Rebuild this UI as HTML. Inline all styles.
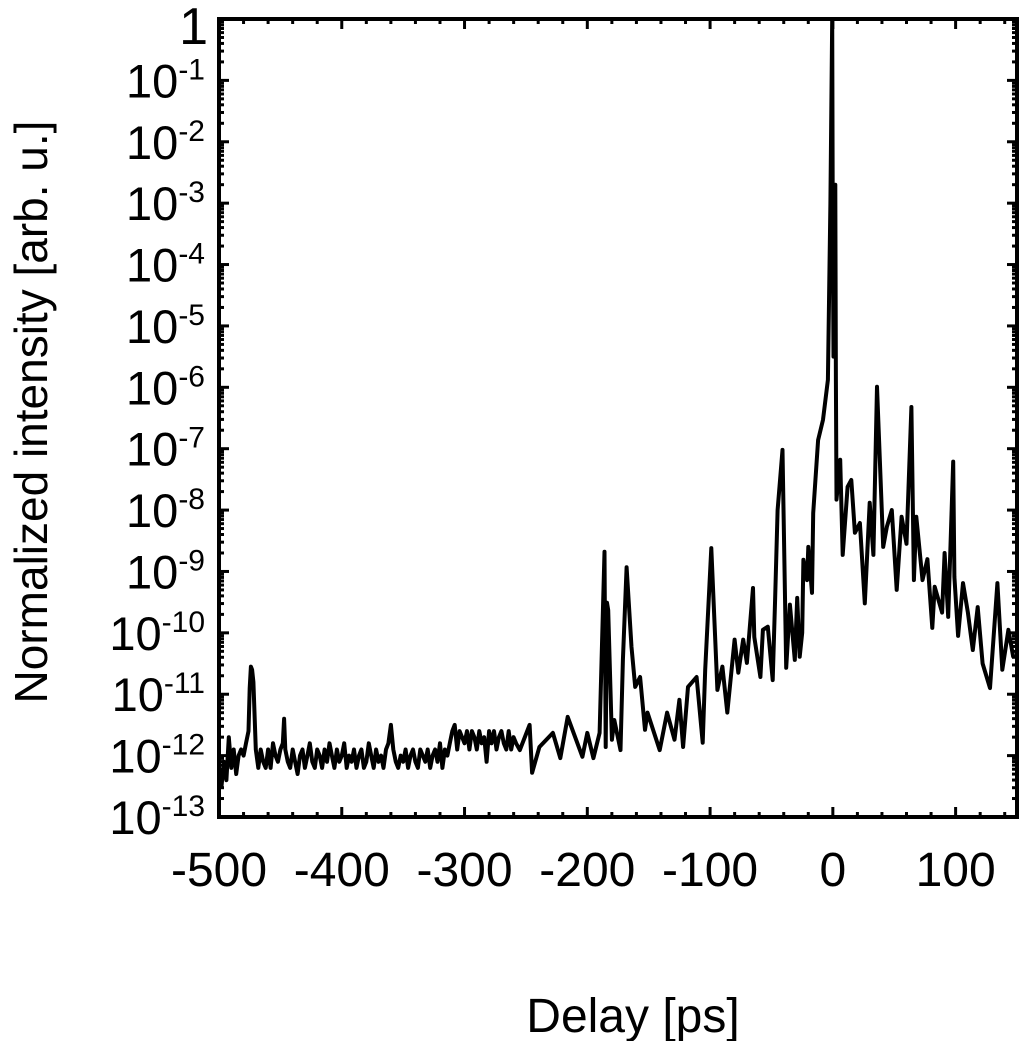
<!DOCTYPE html>
<html><head><meta charset="utf-8"><style>
body{margin:0;background:#fff}
svg{display:block}
text{font-family:"Liberation Sans",Arial,sans-serif;fill:#000}
</style></head><body>
<svg id="chart" width="1024" height="1041" viewBox="0 0 1024 1041"></svg>
<script>
const xTicks=[-500,-400,-300,-200,-100,0,100];
const yExps=[0,-1,-2,-3,-4,-5,-6,-7,-8,-9,-10,-11,-12,-13];
const leftDelays=[
-500,-498,-496,-494,-492,-490,-488,-486,-484,-482,
-480,-478,-476,-475,-474,-473,-472,-470,-468,-466,
-464,-462,-460,-458,-456,-454,-452,-450,-448,-447,
-446,-444,-442,-440,-438,-436,-434,-432,-430,-428,
-426,-424,-422,-420,-418,-416,-414,-412,-410,-408,
-406,-404,-402,-400,-398,-396,-394,-392,-390,-388,
-386,-384,-382,-380,-378,-376,-374,-372,-370,-368,
-366,-364,-362,-360,-358,-356,-354,-352,-350,-348,
-346,-344,-342,-340,-338,-336,-334,-332,-330,-328,
-326,-324,-322,-320,-318,-316,-314,-312,-310,-308,
-306,-304,-302,-300,-298,-296,-294,-292,-290,-288,
-286,-284,-282,-280,-278,-276,-274,-272,-270,-268,
-266,-264,-262,-260,-258];
const leftLog=[
-12.3,-12.5,-12.1,-12.4,-11.7,-12.2,-11.9,-12.3,-12.0,-11.9,
-12.0,-11.8,-11.6,-10.9,-10.55,-10.6,-10.8,-11.9,-12.2,-11.9,
-12.1,-12.2,-11.9,-12.2,-11.8,-12.0,-12.1,-11.9,-11.8,-11.4,
-11.9,-12.1,-12.2,-11.9,-12.1,-12.3,-12.0,-11.9,-12.2,-12.0,
-11.8,-12.1,-12.2,-11.9,-12.0,-12.2,-11.9,-12.1,-11.8,-12.0,
-12.2,-11.9,-12.1,-12.0,-11.8,-12.2,-12.0,-12.1,-11.9,-12.2,
-12.0,-11.9,-12.2,-12.1,-11.8,-12.0,-12.2,-11.9,-12.1,-12.0,
-12.2,-11.9,-11.8,-11.5,-11.9,-12.1,-12.2,-12.0,-12.1,-11.9,
-12.2,-12.0,-11.9,-12.1,-12.2,-11.9,-12.0,-12.1,-11.9,-12.2,
-12.0,-11.9,-12.1,-11.8,-12.2,-11.9,-12.0,-11.8,-11.6,-11.5,
-11.9,-11.6,-11.7,-11.8,-11.6,-11.9,-11.6,-11.7,-11.9,-11.6,
-11.8,-11.7,-12.1,-11.6,-11.8,-11.6,-11.9,-11.7,-11.6,-11.8,
-11.9,-11.6,-11.9,-11.7,-11.8];
const rightDelays=[-255,-247,-245,-239,-228,-222,-216,-204,-200,-195,-190,-186,-185,-184,-183,-180,-178,-173,-171,-168,-164,-161,-157,-153,-151,-141,-135,-129,-125,-122,-118,-111,-106,-104,-99,-94,-90,-86,-80,-77,-73,-70,-65,-64,-59,-57,-53,-49,-47,-45,-41,-38,-35,-31,-29,-27,-25,-24,-21,-20,-17,-16,-12,-8,-4,-2,-0.5,0,0.5,2,2.5,3,6,8,12,15,18,22,26,30,33,36,41,44,48,52,56,60,64,66,68,73,77,81,83,89,91,94,98,99,102,106,110,114,118,122,128,134,138,143,147,149];
const rightLog=[-11.91,-11.5,-12.28,-11.86,-11.63,-12.04,-11.37,-12.02,-11.63,-12.04,-11.63,-8.68,-11.86,-9.51,-9.63,-11.74,-11.42,-11.91,-10.44,-8.93,-10.23,-10.88,-10.72,-11.58,-11.3,-11.91,-11.3,-11.74,-11.09,-11.86,-10.88,-10.72,-11.79,-10.6,-8.62,-10.93,-10.55,-11.3,-10.11,-10.65,-10.11,-10.49,-9.27,-10.07,-10.72,-9.95,-9.9,-10.77,-9.46,-8.0,-7.02,-10.57,-9.54,-10.44,-9.43,-10.39,-10.0,-8.81,-9.14,-8.6,-9.35,-8.05,-6.86,-6.53,-5.88,-3.0,0,-3.5,-5.5,-2.7,-5.9,-7.83,-7.18,-8.73,-7.62,-7.51,-8.37,-8.21,-9.52,-7.88,-8.73,-5.99,-8.6,-8.27,-8.0,-9.3,-8.11,-8.55,-6.32,-9.14,-8.11,-9.14,-8.8,-9.92,-9.25,-9.67,-8.7,-9.74,-7.21,-9.09,-10.05,-9.19,-9.67,-10.28,-9.58,-10.5,-10.9,-9.19,-10.6,-9.95,-10.4];
const NS='http://www.w3.org/2000/svg';
const svg=document.getElementById('chart');
const L=219,R=1017,T=19,B=817;
const X0=-500,X1=150,YMIN=-13,YMAX=0;
function sx(v){return L+(v-X0)/(X1-X0)*(R-L);}
function sy(e){return T+(YMAX-e)/(YMAX-YMIN)*(B-T);}
function mk(tag,attrs,parent){const el=document.createElementNS(NS,tag);for(const k in attrs)el.setAttribute(k,attrs[k]);(parent||svg).appendChild(el);return el;}
const tg=mk('g',{stroke:'#000','stroke-width':3});


for(let v=-500;v<=140;v+=20){
  const major=(v%100===0);const len=major?10:5;const x=sx(v);
  mk('line',{x1:x,y1:B,x2:x,y2:B-len},tg);
  mk('line',{x1:x,y1:T,x2:x,y2:T+len},tg);
}
for(let e=-13;e<0;e++){
  for(let m=1;m<10;m++){
    const y=sy(e+Math.log10(m));const len=m===1?10:5;
    mk('line',{x1:L,y1:y,x2:L+len,y2:y},tg);
    mk('line',{x1:R,y1:y,x2:R-len,y2:y},tg);
  }
}
const delays=leftDelays.concat(rightDelays);
const logI=leftLog.concat(rightLog);
let d='';
const n=Math.min(delays.length,logI.length);
for(let i=0;i<n;i++){d+=(i?'L':'M')+sx(delays[i]).toFixed(1)+' '+sy(logI[i]).toFixed(1);}
const line=mk('path',{d:d,fill:'none',stroke:'#000','stroke-width':4,'stroke-linejoin':'round'});


const fr=mk('rect',{x:L,y:T,width:R-L,height:B-T,fill:'none',stroke:'#000','stroke-width':4});


xTicks.forEach(v=>{
  const t=mk('text',{x:sx(v),y:886,'text-anchor':'middle','font-size':48});
  t.textContent=String(v);
  
  
});
yExps.forEach(e=>{
  const y=sy(e)+17;
  const t=mk('text',{x:e===0?208:205,y:e===0?y+8:y,'text-anchor':'end','font-size':e===0?52:47});
  
  
  if(e===0){t.textContent='1';}
  else{
    const a=mk('tspan',{},t);a.textContent='10';
    const b=mk('tspan',{dy:-18,'font-size':30},t);b.textContent=String(e);
  }
});
const xt=mk('text',{x:633,y:1032,'text-anchor':'middle','font-size':48});
xt.textContent='Delay [ps]';


const yt=mk('text',{x:0,y:0,'text-anchor':'middle','font-size':46,transform:'translate(47,412) rotate(-90)'});
yt.textContent='Normalized intensity [arb. u.]';


</script>
</body></html>
